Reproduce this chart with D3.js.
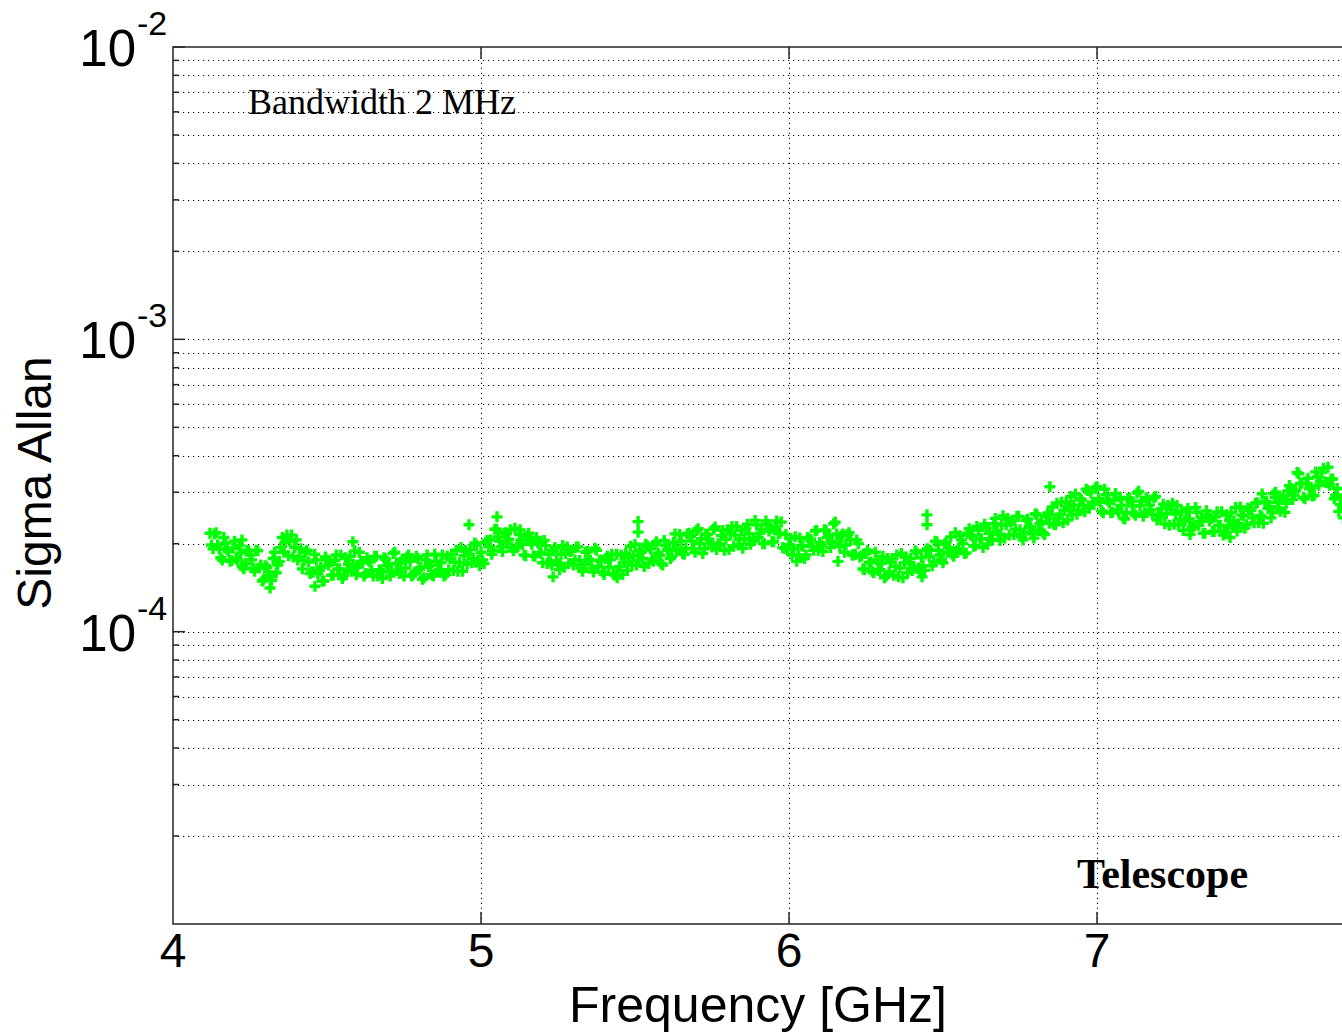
<!DOCTYPE html>
<html><head><meta charset="utf-8">
<script src="https://cdn.jsdelivr.net/npm/d3@7"></script>
<style>body{margin:0;background:#fff}svg{display:block}</style>
</head><body><svg id="c" width="1342" height="1033"></svg>
<script>
// ---- data ----
const xTickValues = [4, 5, 6, 7];
const xTickLabels = ["4", "5", "6", "7"];
const yTickValues = [1e-4, 1e-3, 1e-2];
const yTickExponents = ["-4", "-3", "-2"];
const yMinorGrid = [2e-5,3e-5,4e-5,5e-5,6e-5,7e-5,8e-5,9e-5,
                    2e-4,3e-4,4e-4,5e-4,6e-4,7e-4,8e-4,9e-4,
                    2e-3,3e-3,4e-3,5e-3,6e-3,7e-3,8e-3,9e-3];
const sigmaUnit = 1e-4; // sigma values below are in units of 1e-4
// [frequency GHz, sigma Allan / 1e-4]
const points = [
[4.12,2.17],[4.13,1.92],[4.14,2.18],[4.15,1.92],[4.16,1.76],[4.17,2.01],[4.18,1.88],[4.19,1.75],[4.20,2.04],
[4.21,1.76],[4.22,1.86],[4.23,1.64],[4.24,1.90],[4.25,1.83],[4.26,1.65],[4.27,1.90],[4.28,1.65],[4.29,1.49],[4.30,1.68],
[4.31,1.60],[4.32,1.50],[4.33,1.87],[4.34,1.69],[4.35,1.94],[4.36,1.87],[4.37,2.14],[4.38,2.04],[4.39,1.80],[4.40,2.06],
[4.41,1.81],[4.42,1.64],[4.43,1.87],[4.44,1.73],[4.45,1.60],[4.46,1.84],[4.47,1.58],[4.48,1.66],[4.49,1.49],[4.50,1.76],
[4.51,1.73],[4.52,1.56],[4.53,1.83],[4.54,1.64],[4.55,1.52],[4.56,1.79],[4.57,1.70],[4.58,1.61],[4.59,1.89],[4.60,1.66],
[4.61,1.74],[4.62,1.55],[4.63,1.79],[4.64,1.73],[4.65,1.55],[4.66,1.81],[4.67,1.63],[4.68,1.52],[4.69,1.77],[4.70,1.70],
[4.71,1.60],[4.72,1.87],[4.73,1.62],[4.74,1.73],[4.75,1.55],[4.76,1.80],[4.77,1.74],[4.78,1.57],[4.79,1.81],[4.80,1.63],
[4.81,1.51],[4.82,1.76],[4.83,1.67],[4.84,1.57],[4.85,1.84],[4.86,1.61],[4.87,1.72],[4.88,1.55],[4.89,1.81],[4.90,1.78],
[4.91,1.62],[4.92,1.90],[4.93,1.72],[4.94,1.61],[4.95,1.90],[4.96,1.84],[4.97,1.72],[4.98,2.01],[4.99,1.76],[5.00,1.87],
[5.01,1.71],[5.02,2.05],[5.03,2.06],[5.04,1.90],[5.05,2.24],[5.06,2.04],[5.07,1.88],[5.08,2.18],[5.09,2.07],[5.10,1.94],
[5.11,2.26],[5.12,1.96],[5.13,2.06],[5.14,1.83],[5.15,2.12],[5.16,2.04],[5.17,1.82],[5.18,2.10],[5.19,1.86],[5.20,1.72],
[5.21,1.97],[5.22,1.84],[5.23,1.69],[5.24,1.94],[5.25,1.71],[5.26,1.84],[5.27,1.66],[5.28,1.95],[5.29,1.88],[5.30,1.69],
[5.31,1.95],[5.32,1.75],[5.33,1.61],[5.34,1.87],[5.35,1.77],[5.36,1.65],[5.37,1.93],[5.38,1.67],[5.39,1.76],[5.40,1.57],
[5.41,1.81],[5.42,1.76],[5.43,1.58],[5.44,1.84],[5.45,1.67],[5.46,1.57],[5.47,1.85],[5.48,1.79],[5.49,1.69],[5.50,1.99],
[5.51,1.75],[5.52,1.87],[5.53,1.67],[5.54,1.96],[5.55,1.92],[5.56,1.74],[5.57,2.03],[5.58,1.82],[5.59,1.69],[5.60,1.97],
[5.61,1.90],[5.62,1.81],[5.63,2.16],[5.64,1.90],[5.65,2.04],[5.66,1.84],[5.67,2.16],[5.68,2.12],[5.69,1.92],[5.70,2.22],
[5.71,2.00],[5.72,1.85],[5.73,2.16],[5.74,2.07],[5.75,1.95],[5.76,2.28],[5.77,2.00],[5.78,2.13],[5.79,1.90],[5.80,2.23],
[5.81,2.16],[5.82,1.96],[5.83,2.29],[5.84,2.07],[5.85,1.93],[5.86,2.26],[5.87,2.16],[5.88,2.04],[5.89,2.40],[5.90,2.10],
[5.91,2.24],[5.92,2.00],[5.93,2.32],[5.94,2.25],[5.95,2.03],[5.96,2.39],[5.97,2.17],[5.98,1.94],[5.99,2.15],[6.00,1.98],
[6.01,1.83],[6.02,2.11],[6.03,1.83],[6.04,1.97],[6.05,1.78],[6.06,2.10],[6.07,2.07],[6.08,1.90],[6.09,2.22],[6.10,2.02],
[6.11,1.88],[6.12,2.22],[6.13,2.13],[6.14,2.01],[6.15,2.37],[6.16,2.04],[6.17,2.13],[6.18,1.87],[6.19,2.15],[6.20,2.06],
[6.21,1.83],[6.22,2.06],[6.23,1.80],[6.24,1.64],[6.25,1.85],[6.26,1.72],[6.27,1.61],[6.28,1.87],[6.29,1.62],[6.30,1.71],
[6.31,1.53],[6.32,1.78],[6.33,1.73],[6.34,1.56],[6.35,1.83],[6.36,1.65],[6.37,1.53],[6.38,1.80],[6.39,1.71],[6.40,1.62],
[6.41,1.89],[6.42,1.65],[6.43,1.79],[6.44,1.62],[6.45,1.92],[6.46,1.90],[6.47,1.73],[6.48,2.03],[6.49,1.83],[6.50,1.72],
[6.51,2.02],[6.52,1.94],[6.53,1.84],[6.54,2.18],[6.55,1.92],[6.56,2.06],[6.57,1.85],[6.58,2.17],[6.59,2.14],[6.60,1.96],
[6.61,2.29],[6.62,2.08],[6.63,1.94],[6.64,2.27],[6.65,2.17],[6.66,2.06],[6.67,2.44],[6.68,2.15],[6.69,2.32],[6.70,2.09],
[6.71,2.44],[6.72,2.37],[6.73,2.15],[6.74,2.48],[6.75,2.23],[6.76,2.06],[6.77,2.40],[6.78,2.29],[6.79,2.16],[6.80,2.53],
[6.81,2.22],[6.82,2.38],[6.83,2.15],[6.84,2.54],[6.85,2.51],[6.86,2.33],[6.87,2.75],[6.88,2.52],[6.89,2.36],[6.90,2.77],
[6.91,2.65],[6.92,2.51],[6.93,2.96],[6.94,2.61],[6.95,2.82],[6.96,2.57],[6.97,3.04],[6.98,2.99],[6.99,2.73],[7.00,3.13],
[7.01,2.77],[7.02,2.55],[7.03,2.94],[7.04,2.76],[7.05,2.56],[7.06,2.97],[7.07,2.57],[7.08,2.71],[7.09,2.43],[7.10,2.85],
[7.11,2.79],[7.12,2.54],[7.13,2.98],[7.14,2.70],[7.15,2.48],[7.16,2.87],[7.17,2.71],[7.18,2.52],[7.19,2.90],[7.20,2.50],
[7.21,2.64],[7.22,2.34],[7.23,2.70],[7.24,2.61],[7.25,2.33],[7.26,2.70],[7.27,2.42],[7.28,2.22],[7.29,2.57],[7.30,2.43],
[7.31,2.28],[7.32,2.66],[7.33,2.31],[7.34,2.45],[7.35,2.17],[7.36,2.51],[7.37,2.44],[7.38,2.20],[7.39,2.57],[7.40,2.31],
[7.41,2.14],[7.42,2.51],[7.43,2.40],[7.44,2.27],[7.45,2.66],[7.46,2.34],[7.47,2.51],[7.48,2.26],[7.49,2.65],[7.50,2.60],
[7.51,2.36],[7.52,2.76],[7.53,2.50],[7.54,2.35],[7.55,2.78],[7.56,2.68],[7.57,2.55],[7.58,3.00],[7.59,2.65],[7.60,2.84],
[7.61,2.56],[7.62,3.03],[7.63,3.09],[7.64,2.93],[7.65,3.50],[7.66,3.21],[7.67,2.88],[7.68,3.21],[7.69,3.08],[7.70,2.91],
[7.71,3.52],[7.72,3.17],[7.73,3.50],[7.74,3.26],[7.75,3.65],[7.76,3.33],[7.77,2.85],[7.78,3.09],[7.79,2.72],[7.80,2.45]
];
// interleaved channels (half-step)
const pointsHalf = [
[4.125,1.98],[4.135,2.16],[4.145,1.98],[4.155,1.79],[4.165,2.10],[4.175,1.91],[4.185,1.74],[4.195,1.93],[4.205,1.78],[4.215,1.97],
[4.225,1.67],[4.235,1.71],[4.245,1.89],[4.255,1.76],[4.265,1.61],[4.275,1.89],[4.285,1.69],[4.295,1.51],[4.305,1.66],[4.315,1.55],
[4.325,1.78],[4.335,1.59],[4.345,1.74],[4.355,2.10],[4.365,2.02],[4.375,1.82],[4.385,2.14],[4.395,1.94],[4.405,1.76],[4.415,1.92],
[4.425,1.75],[4.435,1.90],[4.445,1.58],[4.455,1.60],[4.465,1.76],[4.475,1.62],[4.485,1.49],[4.495,1.80],[4.505,1.69],[4.515,1.56],
[4.525,1.75],[4.535,1.64],[4.545,1.83],[4.555,1.56],[4.565,1.62],[4.575,1.81],[4.585,1.70],[4.595,1.57],[4.605,1.87],[4.615,1.72],
[4.625,1.58],[4.635,1.75],[4.645,1.62],[4.655,1.81],[4.665,1.55],[4.675,1.60],[4.685,1.79],[4.695,1.68],[4.705,1.55],[4.715,1.85],
[4.725,1.71],[4.735,1.58],[4.745,1.77],[4.755,1.65],[4.765,1.83],[4.775,1.55],[4.785,1.60],[4.795,1.78],[4.805,1.66],[4.815,1.53],
[4.825,1.83],[4.835,1.69],[4.845,1.55],[4.855,1.74],[4.865,1.63],[4.875,1.83],[4.885,1.57],[4.895,1.63],[4.905,1.84],[4.915,1.73],
[4.925,1.61],[4.935,1.94],[4.945,1.82],[4.955,1.70],[4.965,1.91],[4.975,1.78],[4.985,1.98],[4.995,1.68],[5.005,1.76],[5.015,2.02],
[5.025,1.95],[5.035,1.84],[5.045,2.24],[5.055,2.11],[5.065,1.95],[5.075,2.17],[5.085,2.01],[5.095,2.23],[5.105,1.89],[5.115,1.94],
[5.125,2.15],[5.135,1.99],[5.145,1.82],[5.155,2.17],[5.165,1.99],[5.175,1.81],[5.185,2.01],[5.195,1.86],[5.205,2.05],[5.215,1.71],
[5.225,1.73],[5.235,1.89],[5.245,1.75],[5.255,1.63],[5.265,1.97],[5.275,1.85],[5.285,1.71],[5.295,1.90],[5.305,1.76],[5.315,1.95],
[5.325,1.65],[5.335,1.70],[5.345,1.88],[5.355,1.75],[5.365,1.60],[5.375,1.90],[5.385,1.75],[5.395,1.60],[5.405,1.78],[5.415,1.66],
[5.425,1.84],[5.435,1.56],[5.445,1.62],[5.455,1.83],[5.465,1.73],[5.475,1.62],[5.485,1.96],[5.495,1.82],[5.505,1.69],[5.515,1.90],
[5.525,1.78],[5.535,1.99],[5.545,1.71],[5.555,1.77],[5.565,1.99],[5.575,1.86],[5.585,1.71],[5.595,2.05],[5.605,1.91],[5.615,1.78],
[5.625,2.02],[5.635,1.91],[5.645,2.15],[5.655,1.85],[5.665,1.93],[5.675,2.17],[5.685,2.04],[5.695,1.87],[5.705,2.25],[5.715,2.08],
[5.725,1.92],[5.735,2.15],[5.745,2.01],[5.755,2.24],[5.765,1.91],[5.775,1.98],[5.785,2.22],[5.795,2.07],[5.805,1.91],[5.815,2.29],
[5.825,2.14],[5.835,1.98],[5.845,2.22],[5.855,2.08],[5.865,2.33],[5.875,1.99],[5.885,2.07],[5.895,2.32],[5.905,2.17],[5.915,2.00],
[5.925,2.39],[5.935,2.21],[5.945,2.03],[5.955,2.28],[5.965,2.16],[5.975,2.37],[5.985,1.93],[5.995,1.91],[6.005,2.08],[6.015,1.92],
[6.025,1.74],[6.035,2.09],[6.045,1.96],[6.055,1.83],[6.065,2.07],[6.075,1.96],[6.085,2.21],[6.095,1.90],[6.105,1.98],[6.115,2.23],
[6.125,2.10],[6.135,1.94],[6.145,2.34],[6.155,2.16],[6.165,1.96],[6.175,2.16],[6.185,1.98],[6.195,2.18],[6.205,1.83],[6.215,1.84],
[6.225,2.00],[6.235,1.82],[6.245,1.63],[6.255,1.90],[6.265,1.73],[6.275,1.59],[6.285,1.76],[6.295,1.63],[6.305,1.81],[6.315,1.55],
[6.325,1.60],[6.335,1.78],[6.345,1.67],[6.355,1.54],[6.365,1.85],[6.375,1.72],[6.385,1.59],[6.395,1.78],[6.405,1.67],[6.415,1.86],
[6.425,1.60],[6.435,1.68],[6.445,1.90],[6.455,1.81],[6.465,1.68],[6.475,2.04],[6.485,1.90],[6.495,1.77],[6.505,1.99],[6.515,1.87],
[6.525,2.11],[6.535,1.81],[6.545,1.89],[6.555,2.13],[6.565,2.00],[6.575,1.86],[6.585,2.25],[6.595,2.12],[6.605,1.97],[6.615,2.22],
[6.625,2.08],[6.635,2.33],[6.645,1.99],[6.655,2.07],[6.665,2.34],[6.675,2.21],[6.685,2.05],[6.695,2.49],[6.705,2.32],[6.715,2.14],
[6.725,2.40],[6.735,2.24],[6.745,2.48],[6.755,2.11],[6.765,2.18],[6.775,2.43],[6.785,2.27],[6.795,2.09],[6.805,2.51],[6.815,2.34],
[6.825,2.18],[6.835,2.48],[6.845,2.35],[6.855,2.67],[6.865,2.32],[6.875,2.45],[6.885,2.77],[6.895,2.60],[6.905,2.41],[6.915,2.90],
[6.925,2.71],[6.935,2.52],[6.945,2.85],[6.955,2.71],[6.965,3.07],[6.975,2.65],[6.985,2.77],[6.995,3.10],[7.005,2.85],[7.015,2.59],
[7.025,3.07],[7.035,2.81],[7.045,2.55],[7.055,2.82],[7.065,2.61],[7.075,2.88],[7.085,2.45],[7.095,2.55],[7.105,2.86],[7.115,2.69],
[7.125,2.50],[7.135,3.02],[7.145,2.80],[7.155,2.55],[7.165,2.83],[7.175,2.61],[7.185,2.87],[7.195,2.41],[7.205,2.47],[7.215,2.73],
[7.225,2.53],[7.235,2.31],[7.245,2.75],[7.255,2.53],[7.265,2.32],[7.275,2.58],[7.285,2.39],[7.295,2.64],[7.305,2.24],[7.315,2.30],
[7.325,2.56],[7.335,2.38],[7.345,2.17],[7.355,2.59],[7.365,2.39],[7.375,2.20],[7.385,2.47],[7.395,2.31],[7.405,2.57],[7.415,2.19],
[7.425,2.28],[7.435,2.55],[7.445,2.39],[7.455,2.21],[7.465,2.67],[7.475,2.49],[7.485,2.32],[7.495,2.61],[7.505,2.45],[7.515,2.75],
[7.525,2.36],[7.535,2.47],[7.545,2.79],[7.555,2.64],[7.565,2.45],[7.575,2.96],[7.585,2.77],[7.595,2.58],[7.605,2.91],[7.615,2.75],
[7.625,3.16],[7.635,2.83],[7.645,3.04],[7.655,3.47],[7.665,3.22],[7.675,2.85],[7.685,3.35],[7.695,3.12],[7.705,2.93],[7.715,3.38],
[7.725,3.26],[7.735,3.62],[7.745,3.23],[7.755,3.17],[7.765,3.33],[7.775,2.93],[7.785,2.58],[7.795,2.85]
];
// isolated points standing out from the band
const isolated = [
[4.224,2.06],[4.315,1.41],[4.461,1.43],[4.584,2.03],[4.961,2.32],[5.052,2.47],[5.127,2.23],[5.234,1.54],[5.442,1.53],
[5.510,2.38],[5.510,2.19],[6.159,1.74],[6.448,2.51],[6.448,2.32],[6.432,1.54],[6.847,3.13],[7.302,2.15],[7.432,2.10],
[7.536,2.96],[7.578,2.88]
];
const xLabel = "Frequency [GHz]";
const yLabel = "Sigma Allan";
const note1 = "Bandwidth 2 MHz";
const note2 = "Telescope";

// ---- chart ----
const svg = d3.select("#c");
const x = d3.scaleLinear().domain([4, 8]).range([173, 1405]);
const y = d3.scaleLog().domain([1e-5, 1e-2]).range([924, 47]);
const [x0, x1] = x.range();
const [yb, yt] = y.range();

const grid = svg.append("g").attr("stroke", "#000").attr("stroke-width", 1)
  .attr("stroke-dasharray", "1.2,3.8");
grid.selectAll("line.h").data(yMinorGrid.concat(yTickValues.slice(0, 2))).join("line")
  .attr("class", "h").attr("x1", x0).attr("x2", x1)
  .attr("y1", d => Math.round(y(d)) + 0.5).attr("y2", d => Math.round(y(d)) + 0.5);
grid.selectAll("line.v").data(xTickValues.slice(1)).join("line")
  .attr("class", "v").attr("y1", yb).attr("y2", yt)
  .attr("x1", d => Math.round(x(d)) + 0.5).attr("x2", d => Math.round(x(d)) + 0.5);

// data markers '+'
const allPoints = points.concat(pointsHalf, isolated);
svg.append("g").selectAll("path").data(allPoints).join("path")
  .attr("transform", d => `translate(${x(d[0])},${y(d[1] * sigmaUnit)})`)
  .attr("d", "M-5.5,0H5.5M0,-5.5V5.5")
  .attr("stroke", "#00ff00").attr("stroke-width", 3.4).attr("fill", "none");

// axes box
const ax = svg.append("g").attr("stroke", "#262626").attr("stroke-width", 1.5).attr("fill", "none");
ax.append("path").attr("d", `M${x1},${yt}H${x0}V${yb}H${x1}`);
ax.selectAll("line.xb").data(xTickValues.slice(1)).join("line").attr("class", "xb")
  .attr("x1", d => x(d)).attr("x2", d => x(d)).attr("y1", yb).attr("y2", yb - 12);
ax.selectAll("line.xt").data(xTickValues.slice(1)).join("line").attr("class", "xt")
  .attr("x1", d => x(d)).attr("x2", d => x(d)).attr("y1", yt).attr("y2", yt + 12);
ax.selectAll("line.ym").data(yTickValues).join("line").attr("class", "ym")
  .attr("x1", x0).attr("x2", x0 + 12).attr("y1", d => y(d)).attr("y2", d => y(d));
ax.selectAll("line.yn").data(yMinorGrid).join("line").attr("class", "yn")
  .attr("x1", x0).attr("x2", x0 + 6).attr("y1", d => y(d)).attr("y2", d => y(d));

const sans = "'Liberation Sans', Arial, sans-serif";
const serif = "'Liberation Serif', 'Times New Roman', serif";
svg.append("g").selectAll("text").data(xTickValues).join("text")
  .attr("x", d => x(d)).attr("y", 967).attr("text-anchor", "middle")
  .attr("font-family", sans).attr("font-size", 48).attr("fill", "#000")
  .text((d, i) => xTickLabels[i]);
const yl = svg.append("g").attr("font-family", sans).attr("fill", "#000");
yl.selectAll("text.b").data(yTickValues).join("text").attr("class", "b")
  .attr("x", 136).attr("y", d => y(d) + 19).attr("text-anchor", "end")
  .attr("font-size", 51).text("10");
yl.selectAll("text.e").data(yTickValues).join("text").attr("class", "e")
  .attr("x", 137).attr("y", d => y(d) - 12).attr("text-anchor", "start")
  .attr("font-size", 34).text((d, i) => yTickExponents[i]);
svg.append("text").attr("x", 758).attr("y", 1022).attr("text-anchor", "middle")
  .attr("font-family", sans).attr("font-size", 50).attr("fill", "#000").text(xLabel);
svg.append("text").attr("transform", "translate(51,483) rotate(-90)").attr("text-anchor", "middle")
  .attr("font-family", sans).attr("font-size", 48).attr("fill", "#000").text(yLabel);
svg.append("text").attr("x", 248).attr("y", 114).attr("font-family", serif)
  .attr("font-size", 36).attr("fill", "#000").text(note1);
svg.append("text").attr("x", 1077).attr("y", 888).attr("font-family", serif)
  .attr("font-size", 42).attr("font-weight", "bold").attr("fill", "#000").text(note2);
</script></body></html>
